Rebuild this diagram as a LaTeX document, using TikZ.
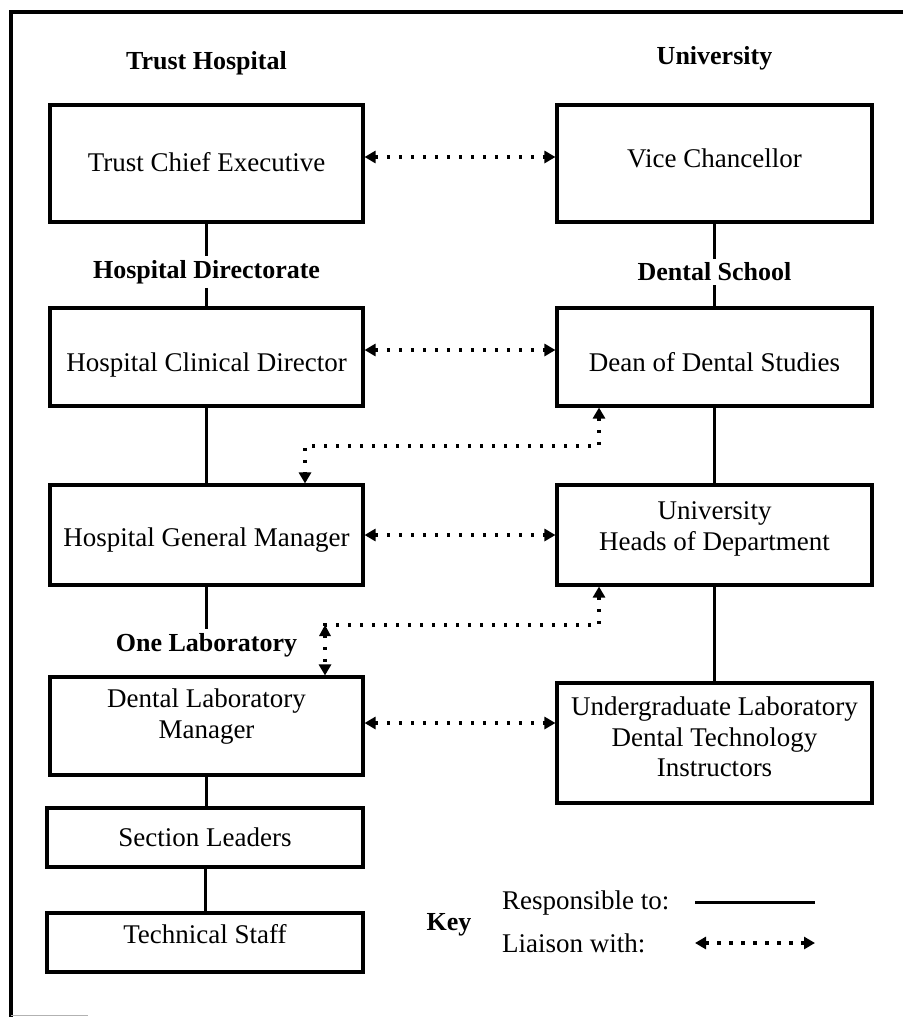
\documentclass[tikz,border=0pt]{standalone}
\usepackage{fontspec}
\setmainfont{Liberation Serif}
\usetikzlibrary{arrows.meta}
% box text, raised or lowered from the box centre
\newcommand{\boxtext}[2]{\raisebox{#1}[\height][\depth]{\begin{tabular}{@{}c@{}}#2\end{tabular}}}
\begin{document}
\begin{tikzpicture}[x=1pt,y=-1pt,
  every node/.style={font=\fontsize{27}{30.5}\selectfont},
  unit/.style={draw,line width=3.1pt,inner sep=0pt,minimum width=313pt},
  head/.style={font=\fontsize{26}{30}\selectfont\bfseries,inner sep=4pt},
  resp/.style={line width=3pt},
  liaison/.style={line width=3.5pt,dash pattern=on 3.5pt off 8.5pt,
    {Triangle[length=11pt,width=12pt]}-{Triangle[length=11pt,width=12pt]}}
]
\useasboundingbox (0,0) rectangle (903,1017);

% outer frame
\draw[line width=3.2pt] (903,12) -- (11,12) -- (11,1017);
\draw[gray!60,line width=1.2pt] (11,1015.5) -- (88,1015.5);

% hospital side
\node[unit,minimum height=117pt] (tce) at (206.5,163.5) {\boxtext{-2pt}{Trust Chief Executive}};
\node[unit,minimum height=98pt] (hcd) at (206.5,357) {\boxtext{-8pt}{Hospital Clinical Director}};
\node[unit,minimum height=100pt] (hgm) at (206.5,535) {\boxtext{-5pt}{Hospital General Manager}};
\node[unit,minimum height=98pt] (dlm) at (206.5,726) {\boxtext{9pt}{Dental Laboratory\\Manager}};
\node[unit,minimum width=316pt,minimum height=59pt] (sl) at (205,837.5) {\boxtext{-3pt}{Section Leaders}};
\node[unit,minimum width=316pt,minimum height=59pt] (ts) at (205,942.5) {\boxtext{5pt}{Technical Staff}};

% university side
\node[unit,minimum width=315pt,minimum height=117pt] (vc) at (714.5,163.5) {\boxtext{2pt}{Vice Chancellor}};
\node[unit,minimum width=315pt,minimum height=98pt] (dean) at (714.5,357) {\boxtext{-8pt}{Dean of Dental Studies}};
\node[unit,minimum width=315pt,minimum height=100pt] (uhd) at (714.5,535) {\boxtext{6pt}{University\\Heads of Department}};
\node[unit,minimum width=315pt,minimum height=120pt] (ug) at (714.5,743) {\boxtext{3pt}{Undergraduate Laboratory\\Dental Technology\\Instructors}};

% headings
\node[head] (th) at (206.5,63) {Trust Hospital};
\node[head] (uni) at (714.5,58) {University};
\node[head] (hdir) at (206.5,272) {Hospital Directorate};
\node[head] (ds) at (714.5,272) {Dental School};
\node[head] (ol) at (206.5,645) {One Laboratory};
\node[head] (key) at (449,925) {Key};

% lines of responsibility
\draw[resp] (tce.south) -- (hdir.north);
\draw[resp] (hdir.south) -- (hcd.north);
\draw[resp] (hcd.south) -- (hgm.north);
\draw[resp] (hgm.south) -- (ol.north);
\draw[resp] (dlm.south) -- (dlm.south |- sl.north);
\draw[resp] (sl.south) -- (sl.south |- ts.north);
\draw[resp] (vc.south) -- (ds.north);
\draw[resp] (ds.south) -- (dean.north);
\draw[resp] (dean.south) -- (uhd.north);
\draw[resp] (uhd.south) -- (ug.north);

% liaison links
\draw[liaison] ([yshift=6.5pt]tce.east) -- ([yshift=6.5pt]vc.west);
\draw[liaison] ([yshift=7pt]hcd.east) -- ([yshift=7pt]dean.west);
\draw[liaison] (hgm.east) -- (uhd.west);
\draw[liaison] ([yshift=3pt]dlm.east) -- ([yshift=3pt]dlm.east -| ug.west);

\coordinate (r1) at (599,446);
\coordinate (l1) at (305,446);
\draw[liaison] (dean.south -| r1) -- (r1) -- (l1) -- (l1 |- hgm.north);

\coordinate (r2) at (599,625);
\coordinate (l2) at (325,625);
\draw[liaison] (uhd.south -| r2) -- (r2) -- (l2) -- (l2 |- dlm.north);
\fill (l2) -- ++(-6,11) -- ++(12,0) -- cycle;

% key
\node[anchor=west,inner sep=0pt] (kresp) at (502,903) {Responsible to:};
\node[anchor=west,inner sep=0pt] (kliai) at (502,943) {Liaison with:};
\coordinate (ka) at (695,902);
\coordinate (kb) at (815,902);
\coordinate (kc) at (695,943);
\coordinate (kd) at (815,943);
\draw[resp] (ka) -- (kb);
\draw[liaison] (kc) -- (kd);
\end{tikzpicture}
\end{document}
